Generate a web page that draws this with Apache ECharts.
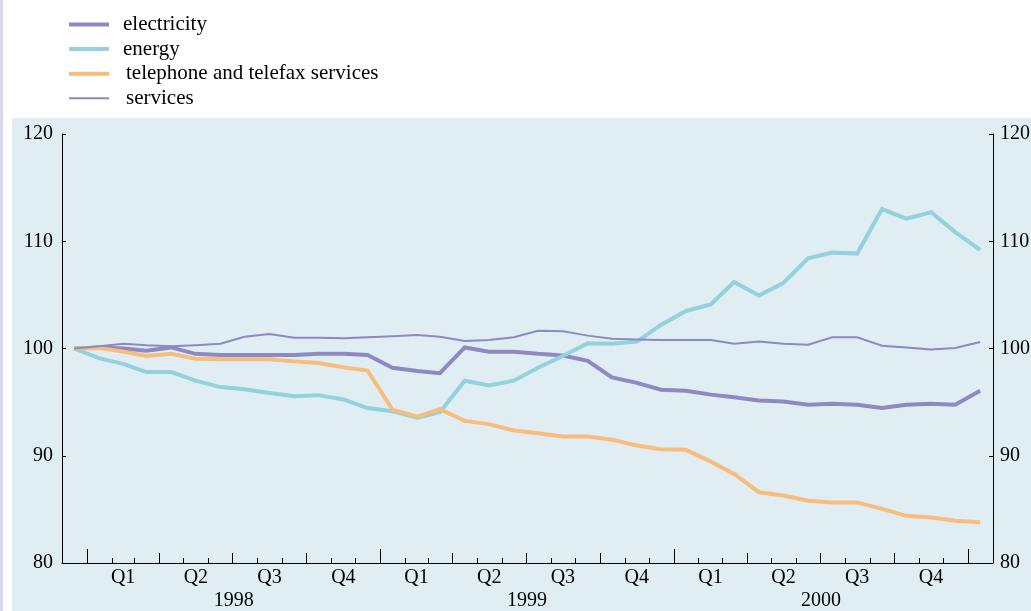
<!DOCTYPE html>
<html>
<head>
<meta charset="utf-8">
<script src="https://cdn.jsdelivr.net/npm/echarts@6/dist/echarts.min.js"></script>
<style>
html,body{margin:0;padding:0;background:#fff;}
#chart{width:1031px;height:611px;}
</style>
</head>
<body>
<div id="chart"></div>
<script>
// ---- data (monthly index, Dec 1997 = 100) ----
const months = ['1997-12',
  '1998-01','1998-02','1998-03','1998-04','1998-05','1998-06','1998-07','1998-08','1998-09','1998-10','1998-11','1998-12',
  '1999-01','1999-02','1999-03','1999-04','1999-05','1999-06','1999-07','1999-08','1999-09','1999-10','1999-11','1999-12',
  '2000-01','2000-02','2000-03','2000-04','2000-05','2000-06','2000-07','2000-08','2000-09','2000-10','2000-11','2000-12',
  '2001-01'];
const electricity = [100, 100.1, 100.0, 99.8, 100.1, 99.5, 99.4, 99.4, 99.4, 99.4, 99.5, 99.5, 99.4,
  98.2, 97.9, 97.7, 100.1, 99.7, 99.7, 99.5, 99.35, 98.85, 97.3, 96.8, 96.15,
  96.05, 95.7, 95.45, 95.15, 95.05, 94.75, 94.85, 94.75, 94.45, 94.75, 94.85, 94.75, 96.05];
const energy = [100, 99.1, 98.55, 97.8, 97.8, 97.0, 96.4, 96.2, 95.85, 95.55, 95.65, 95.25, 94.45,
  94.15, 93.55, 94.05, 97.0, 96.55, 97.0, 98.2, 99.3, 100.5, 100.45, 100.65, 102.2,
  103.5, 104.1, 106.2, 104.95, 106.1, 108.4, 108.95, 108.85, 113.0, 112.1, 112.7, 110.85, 109.2];
const telephone = [100, 100.05, 99.7, 99.3, 99.5, 99.05, 99.0, 99.0, 99.0, 98.8, 98.65, 98.25, 97.95,
  94.3, 93.65, 94.35, 93.25, 92.95, 92.35, 92.1, 91.8, 91.8, 91.5, 90.95, 90.6,
  90.55, 89.45, 88.3, 86.6, 86.3, 85.8, 85.65, 85.65, 85.05, 84.4, 84.25, 83.95, 83.8];
const services = [100, 100.2, 100.45, 100.3, 100.2, 100.3, 100.45, 101.1, 101.35, 101.0, 101.0, 100.95, 101.05,
  101.15, 101.25, 101.1, 100.7, 100.8, 101.05, 101.65, 101.6, 101.2, 100.9, 100.85, 100.8,
  100.8, 100.8, 100.45, 100.65, 100.45, 100.35, 101.05, 101.05, 100.25, 100.1, 99.9, 100.05, 100.6];
const seriesNames = ['electricity', 'energy', 'telephone and telefax services', 'services'];
const quarterLabels = ['Q1', 'Q2', 'Q3', 'Q4'];
const yearLabels = ['1998', '1999', '2000'];
const yTicks = [80, 90, 100, 110, 120];

// ---- helpers (dates -> day numbers, scaled by the value axis) ----
const DAY = 86400000;
function ym(s) { const p = s.split('-'); return [Number(p[0]), Number(p[1]) - 1]; }
function dayNum(y, m, d) { return Date.UTC(y, m, d) / DAY; }
function monthStart(s) { const a = ym(s); return dayNum(a[0], a[1], 1); }
function monthNextStart(s) { const a = ym(s); return dayNum(a[0], a[1] + 1, 1); }
function monthMid(s) { const a = ym(s); return dayNum(a[0], a[1], 16); }
function dateOf(v) { return new Date(v * DAY + DAY / 2); }

const xMin = monthStart(months[0]);
const xMax = monthNextStart(months[months.length - 1]);
const monthTicks = months.slice(1).map(monthStart);
const quarterTicks = months.filter(s => ym(s)[1] % 3 === 0).map(monthStart);
const yearTicks = months.filter(s => ym(s)[1] === 0).map(monthStart);
const quarterMids = [];
yearLabels.forEach(y => {
  for (let q = 0; q < 4; q++) {
    quarterMids.push((dayNum(Number(y), q * 3, 1) + dayNum(Number(y), q * 3 + 3, 1)) / 2);
  }
});
const yearMids = yearLabels.map(y => (dayNum(Number(y), 0, 1) + dayNum(Number(y) + 1, 0, 1)) / 2);

const FONT = 'Liberation Serif';
const colors = ['#8e89c1', '#93d1dd', '#f8bd7c', '#8e89c1'];
const widths = [4, 4, 4, 2];
const allData = [electricity, energy, telephone, services];

const baseX = {
  type: 'value', min: xMin, max: xMax, gridIndex: 0, position: 'bottom', scale: true,
  splitLine: { show: false }, axisPointer: { show: false }
};

const chart = echarts.init(document.getElementById('chart'));
chart.setOption({
  animation: false,
  backgroundColor: '#ffffff',
  graphic: [
    { type: 'rect', z: -100, shape: { x: 12, y: 118, width: 1019, height: 493 }, style: { fill: '#e0eef4' } },
    { type: 'rect', z: -100, shape: { x: 0, y: 0, width: 3, height: 611 }, style: { fill: '#dcd8ee' } }
  ],
  legend: {
    orient: 'vertical', left: 62, top: 9,
    itemWidth: 40, itemHeight: 20, itemGap: 3.6,
    lineStyle: { width: 'inherit' },
    itemStyle: { opacity: 0 },
    textStyle: { fontFamily: FONT, fontSize: 21, color: '#000', padding: [0, 0, 0, 9] },
    data: seriesNames.map((n, i) => ({
      name: n,
      textStyle: { fontFamily: FONT, fontSize: 21, color: '#000', padding: [0, 0, 0, i >= 2 ? 12 : 9] }
    }))
  },
  grid: { left: 62, right: 38, top: 134, bottom: 48, containLabel: false, outerBoundsMode: 'none' },
  xAxis: [
    Object.assign({}, baseX, {
      axisLine: { show: true, lineStyle: { color: '#000', width: 1 } },
      axisTick: { show: true, inside: true, length: 5, customValues: monthTicks, lineStyle: { color: '#000' } },
      axisLabel: {
        show: true, customValues: quarterMids, margin: 5,
        fontFamily: FONT, fontSize: 20, color: '#000',
        formatter: v => quarterLabels[Math.floor(dateOf(v).getUTCMonth() / 3)]
      }
    }),
    Object.assign({}, baseX, {
      axisLine: { show: false },
      axisTick: { show: true, inside: true, length: 10, customValues: quarterTicks, lineStyle: { color: '#000' } },
      axisLabel: { show: false }
    }),
    Object.assign({}, baseX, {
      axisLine: { show: false },
      axisTick: { show: true, inside: true, length: 14, customValues: yearTicks, lineStyle: { color: '#000' } },
      axisLabel: {
        show: true, customValues: yearMids, margin: 28,
        fontFamily: FONT, fontSize: 20, color: '#000',
        formatter: v => yearLabels[dateOf(v).getUTCFullYear() - Number(yearLabels[0])]
      }
    })
  ],
  yAxis: [
    {
      type: 'value', position: 'left', min: yTicks[0], max: yTicks[yTicks.length - 1], interval: 10,
      splitLine: { show: false },
      axisLine: { show: true, lineStyle: { color: '#000', width: 1 } },
      axisTick: { show: true, inside: true, length: 4, lineStyle: { color: '#000' } },
      axisLabel: { margin: 9, fontFamily: FONT, fontSize: 20, color: '#000' }
    },
    {
      type: 'value', position: 'right', min: yTicks[0], max: yTicks[yTicks.length - 1], interval: 10,
      splitLine: { show: false },
      axisLine: { show: true, lineStyle: { color: '#000', width: 1 } },
      axisTick: { show: true, inside: true, length: 4, lineStyle: { color: '#000' } },
      axisLabel: { margin: 7, fontFamily: FONT, fontSize: 20, color: '#000' }
    }
  ],
  series: seriesNames.map((n, i) => ({
    name: n, type: 'line', xAxisIndex: 0, yAxisIndex: 0,
    symbol: 'none', showSymbol: false,
    color: colors[i],
    lineStyle: { color: colors[i], width: widths[i], join: 'miter' },
    data: months.map((m, k) => [monthMid(m), allData[i][k]])
  }))
});
</script>
</body>
</html>
